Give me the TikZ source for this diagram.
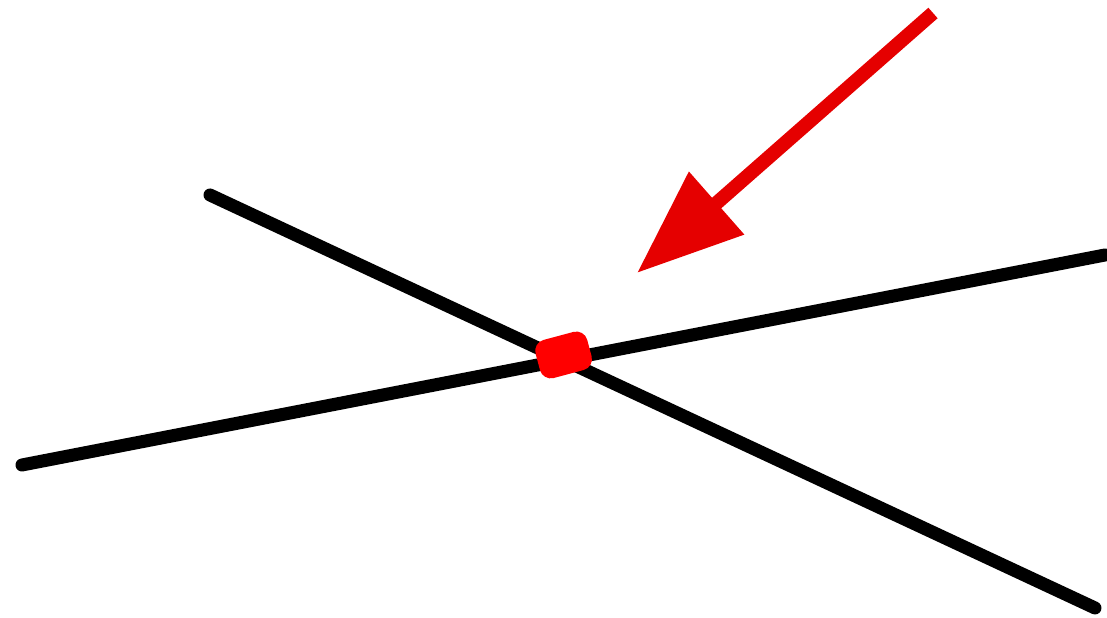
\documentclass[tikz,border=0pt]{standalone}
\usetikzlibrary{arrows.meta, calc}

\begin{document}
\begin{tikzpicture}[
  bar/.style  = {line width=0.13cm, black, line cap=round},
  ptr/.style  = {-{Triangle[length=1.06cm, width=0.80cm]}, line width=0.14cm, red!90!black},
  spot/.style = {draw=red, fill=red, rounded corners=3pt, inner sep=0pt,
                 minimum width=0.52cm, minimum height=0.38cm, rotate=15},
]
  \useasboundingbox (0,0) rectangle (11.07,6.18);
  % end points of the two lines
  \coordinate (a1) at (2.10,4.23);
  \coordinate (a2) at (10.95,0.10);
  \coordinate (b1) at (0.22,1.53);
  \coordinate (b2) at (11.05,3.63);
  \coordinate (tail) at (9.33,6.05);
  \coordinate (aim)  at (6.37,3.45);
  \draw[bar] (a1) -- (a2);
  \draw[bar] (b1) -- (b2);
  \node[spot] (hit) at ($(intersection of a1--a2 and b1--b2)+(0.0,0.05)$) {};
  \draw[ptr] (tail) -- (aim);
\end{tikzpicture}
\end{document}
